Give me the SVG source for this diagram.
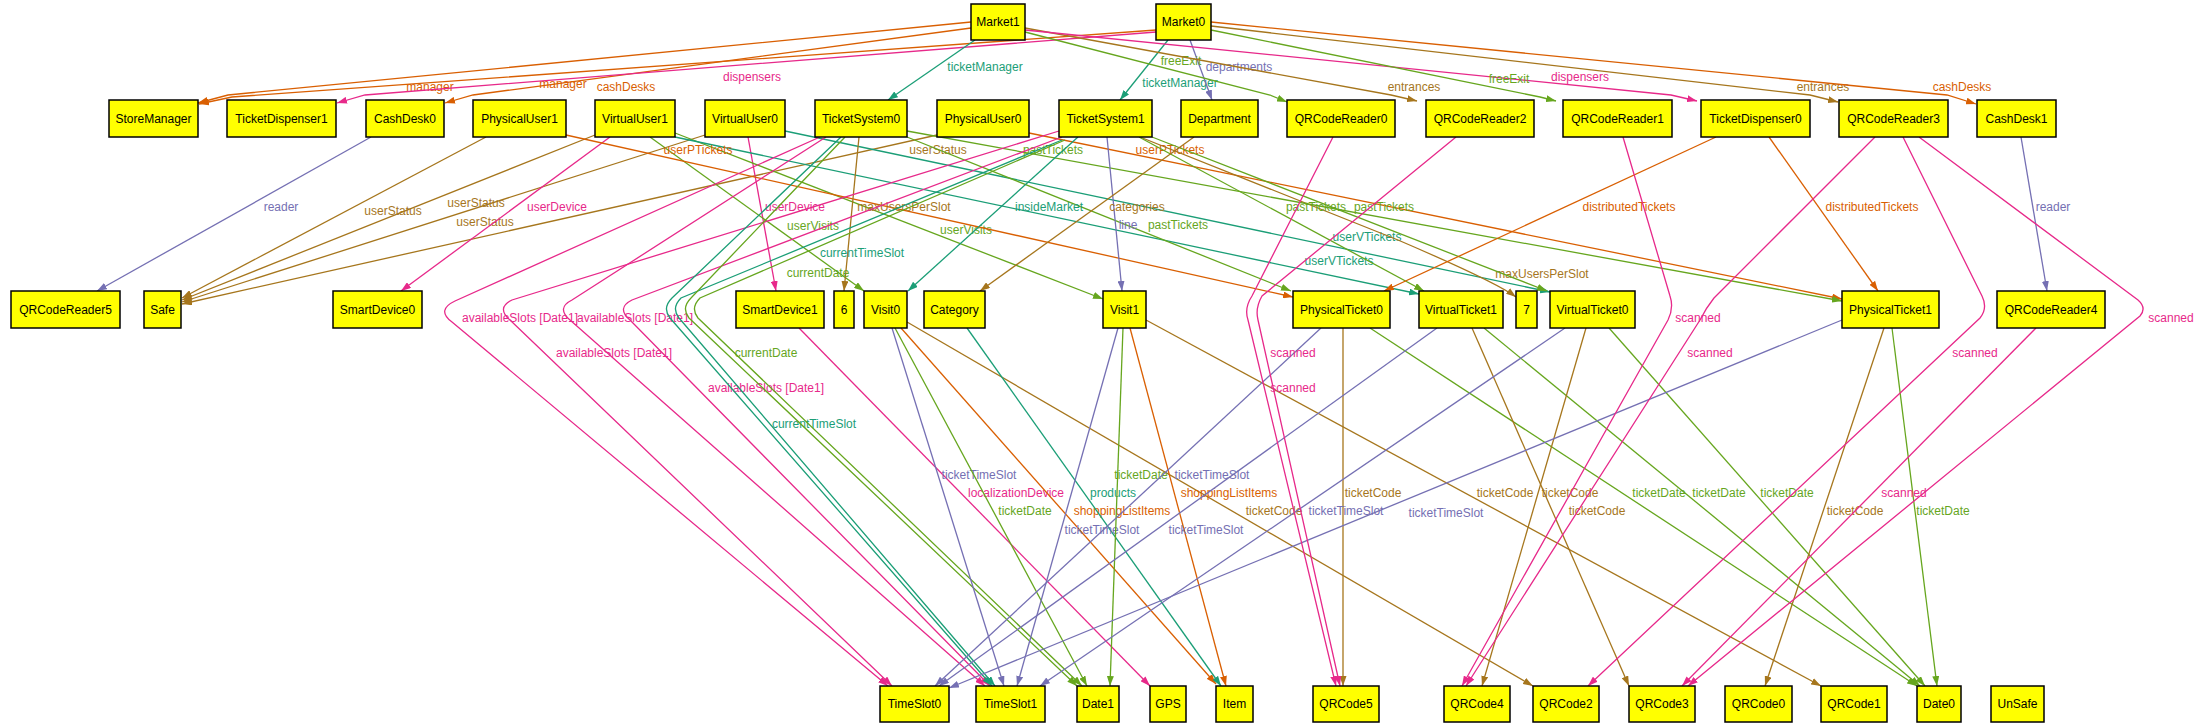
<svg xmlns="http://www.w3.org/2000/svg" width="2197" height="725" viewBox="0 0 2197 725">
<defs>
<style>
.n rect{fill:#ffff00;stroke:#000;stroke-width:1.5}
.n text{font-family:"Liberation Sans",Arial,sans-serif;font-size:12px;text-anchor:middle;fill:#000}
.e path{fill:none;stroke-width:1.3}
.e text{font-family:"Liberation Sans",Arial,sans-serif;font-size:12px;text-anchor:middle;stroke:none}
.teal path{stroke:#1b9e77;marker-end:url(#a-teal)} .teal text{fill:#1b9e77}
.orange path{stroke:#d95f02;marker-end:url(#a-orange)} .orange text{fill:#d95f02}
.purple path{stroke:#7570b3;marker-end:url(#a-purple)} .purple text{fill:#7570b3}
.pink path{stroke:#e7298a;marker-end:url(#a-pink)} .pink text{fill:#e7298a}
.green path{stroke:#66a61e;marker-end:url(#a-green)} .green text{fill:#66a61e}
.brown path{stroke:#a6761d;marker-end:url(#a-brown)} .brown text{fill:#a6761d}
</style>
<marker id="a-teal" markerUnits="userSpaceOnUse" markerWidth="10" markerHeight="7" refX="10" refY="3.5" orient="auto"><path d="M0,0 L10,3.5 L0,7 z" fill="#1b9e77"/></marker>
<marker id="a-orange" markerUnits="userSpaceOnUse" markerWidth="10" markerHeight="7" refX="10" refY="3.5" orient="auto"><path d="M0,0 L10,3.5 L0,7 z" fill="#d95f02"/></marker>
<marker id="a-purple" markerUnits="userSpaceOnUse" markerWidth="10" markerHeight="7" refX="10" refY="3.5" orient="auto"><path d="M0,0 L10,3.5 L0,7 z" fill="#7570b3"/></marker>
<marker id="a-pink" markerUnits="userSpaceOnUse" markerWidth="10" markerHeight="7" refX="10" refY="3.5" orient="auto"><path d="M0,0 L10,3.5 L0,7 z" fill="#e7298a"/></marker>
<marker id="a-green" markerUnits="userSpaceOnUse" markerWidth="10" markerHeight="7" refX="10" refY="3.5" orient="auto"><path d="M0,0 L10,3.5 L0,7 z" fill="#66a61e"/></marker>
<marker id="a-brown" markerUnits="userSpaceOnUse" markerWidth="10" markerHeight="7" refX="10" refY="3.5" orient="auto"><path d="M0,0 L10,3.5 L0,7 z" fill="#a6761d"/></marker>
</defs>
<rect x="0" y="0" width="2197" height="725" fill="#fff"/>
<g id="connectors">
<g class="e orange"><path d="M971,22 L228,95 L198,103"/><text x="430" y="91">manager</text></g>
<g class="e orange"><path d="M1156,30 L232,97 L199,104"/><text x="563" y="88">manager</text></g>
<g class="e orange"><path d="M971,28 L473,95 L445,103"/><text x="626" y="91">cashDesks</text></g>
<g class="e pink"><path d="M1156,32 L365,95 L337,103"/><text x="752" y="81">dispensers</text></g>
<g class="e teal"><path d="M975,40 L888,100"/><text x="985" y="71">ticketManager</text></g>
<g class="e teal"><path d="M1168,40 L1120,100"/><text x="1180" y="87">ticketManager</text></g>
<g class="e purple"><path d="M1190,40 L1212,100"/><text x="1239" y="71">departments</text></g>
<g class="e green"><path d="M1025,32 L1270,95 L1287,102"/><text x="1181" y="65">freeExit</text></g>
<g class="e brown"><path d="M1025,28 L1391,95 L1417,101"/><text x="1414" y="91">entrances</text></g>
<g class="e pink"><path d="M1025,30 L1671,95 L1697,101"/><text x="1580" y="81">dispensers</text></g>
<g class="e green"><path d="M1211,30 L1540,97 L1556,101"/><text x="1509" y="83">freeExit</text></g>
<g class="e brown"><path d="M1211,26 L1810,95 L1838,102"/><text x="1823" y="91">entrances</text></g>
<g class="e orange"><path d="M1211,22 L1947,95 L1976,104"/><text x="1962" y="91">cashDesks</text></g>
<g class="e purple"><path d="M371,137 L97,291"/><text x="281" y="211">reader</text></g>
<g class="e purple"><path d="M2021,137 L2047,291"/><text x="2053" y="211">reader</text></g>
<g class="e brown"><path d="M486,137 L182,298"/><text x="393" y="215">userStatus</text></g>
<g class="e brown"><path d="M595,135 L182,300"/><text x="476" y="207">userStatus</text></g>
<g class="e brown"><path d="M705,135 L182,302"/><text x="485" y="226">userStatus</text></g>
<g class="e brown"><path d="M937,135 L182,304"/><text x="938" y="154">userStatus</text></g>
<g class="e pink"><path d="M610,137 L401,291"/><text x="557" y="211">userDevice</text></g>
<g class="e pink"><path d="M748,137 L776,291"/><text x="795" y="211">userDevice</text></g>
<g class="e green"><path d="M650,137 L864,291"/><text x="813" y="230">userVisits</text></g>
<g class="e green"><path d="M675,133 L1103,299"/><text x="966" y="234">userVisits</text></g>
<g class="e teal"><path d="M675,137 L1419,294"/><text x="1339" y="265">userVTickets</text></g>
<g class="e teal"><path d="M785,131 L1550,292"/><text x="1367" y="241">userVTickets</text></g>
<g class="e orange"><path d="M566,135 L1293,297"/><text x="698" y="154">userPTickets</text></g>
<g class="e orange"><path d="M1029,133 L1842,299"/><text x="1170" y="154">userPTickets</text></g>
<g class="e brown"><path d="M859,137 L844,291"/><text x="904" y="211">maxUsersPerSlot</text></g>
<g class="e brown"><path d="M1140,137 L1398,240 Q1496,282 1516,297"/><text x="1542" y="278">maxUsersPerSlot</text></g>
<g class="e green"><path d="M907,131 L1842,301"/><text x="1053" y="154">pastTickets</text></g>
<g class="e green"><path d="M907,137 L1291,291"/><text x="1178" y="229">pastTickets</text></g>
<g class="e green"><path d="M1139,137 L1424,291"/><text x="1316" y="211">pastTickets</text></g>
<g class="e green"><path d="M1152,137 L1547,291"/><text x="1384" y="211">pastTickets</text></g>
<g class="e teal"><path d="M1078,137 L908,291"/><text x="1049" y="211">insideMarket</text></g>
<g class="e purple"><path d="M1107,137 L1122,291"/><text x="1128" y="229">line</text></g>
<g class="e brown"><path d="M1194,137 L980,291"/><text x="1137" y="211">categories</text></g>
<g class="e orange"><path d="M1716,137 L1384,291"/><text x="1629" y="211">distributedTickets</text></g>
<g class="e orange"><path d="M1769,137 L1878,291"/><text x="1872" y="211">distributedTickets</text></g>
<g class="e pink"><path d="M820,137 L455,301 Q436,310 452,322 L888,686"/><text x="520" y="322">availableSlots [Date1]</text></g>
<g class="e pink"><path d="M1059,131 L512,300 Q496,308 510,320 L892,686"/><text x="614" y="357">availableSlots [Date1]</text></g>
<g class="e pink"><path d="M826,137 L572,300 Q556,308 570,320 L985,686"/><text x="635" y="322">availableSlots [Date1]</text></g>
<g class="e pink"><path d="M1062,137 L632,300 Q616,308 630,320 L990,686"/><text x="766" y="392">availableSlots [Date1]</text></g>
<g class="e teal"><path d="M841,137 L672,298 Q662,308 670,318 L992,686"/><text x="862" y="257">currentTimeSlot</text></g>
<g class="e teal"><path d="M1062,140 L681,298 Q671,308 679,318 L995,686"/><text x="814" y="428">currentTimeSlot</text></g>
<g class="e green"><path d="M845,137 L691,298 Q681,308 689,318 L1077,686"/><text x="818" y="277">currentDate</text></g>
<g class="e green"><path d="M1065,140 L700,298 Q690,308 698,318 L1082,686"/><text x="766" y="357">currentDate</text></g>
<g class="e pink"><path d="M799,328 L1150,686"/><text x="1016" y="497">localizationDevice</text></g>
<g class="e purple"><path d="M892,328 L1004,686"/><text x="979" y="479">ticketTimeSlot</text></g>
<g class="e green"><path d="M895,328 L1087,686"/><text x="1025" y="515">ticketDate</text></g>
<g class="e orange"><path d="M901,328 L1216,684"/><text x="1122" y="515">shoppingListItems</text></g>
<g class="e brown"><path d="M907,322 L1533,686"/><text x="1274" y="515">ticketCode</text></g>
<g class="e teal"><path d="M967,328 L1221,686"/><text x="1113" y="497">products</text></g>
<g class="e purple"><path d="M1118,328 L1017,686"/><text x="1102" y="534">ticketTimeSlot</text></g>
<g class="e green"><path d="M1123,328 L1110,686"/><text x="1141" y="479">ticketDate</text></g>
<g class="e orange"><path d="M1130,328 L1226,686"/><text x="1229" y="497">shoppingListItems</text></g>
<g class="e brown"><path d="M1146,320 L1821,686"/><text x="1505" y="497">ticketCode</text></g>
<g class="e purple"><path d="M1321,328 L935,686"/><text x="1212" y="479">ticketTimeSlot</text></g>
<g class="e brown"><path d="M1343,328 L1343,686"/><text x="1373" y="497">ticketCode</text></g>
<g class="e green"><path d="M1370,328 L1917,686"/><text x="1659" y="497">ticketDate</text></g>
<g class="e purple"><path d="M1437,328 L939,686"/><text x="1206" y="534">ticketTimeSlot</text></g>
<g class="e brown"><path d="M1472,328 L1629,686"/><text x="1570" y="497">ticketCode</text></g>
<g class="e green"><path d="M1484,328 L1920,686"/><text x="1719" y="497">ticketDate</text></g>
<g class="e purple"><path d="M1565,328 L1040,686"/><text x="1346" y="515">ticketTimeSlot</text></g>
<g class="e brown"><path d="M1586,328 L1482,686"/><text x="1597" y="515">ticketCode</text></g>
<g class="e green"><path d="M1609,328 L1925,686"/><text x="1787" y="497">ticketDate</text></g>
<g class="e purple"><path d="M1842,320 L949,688"/><text x="1446" y="517">ticketTimeSlot</text></g>
<g class="e brown"><path d="M1884,328 L1765,686"/><text x="1855" y="515">ticketCode</text></g>
<g class="e green"><path d="M1892,328 L1937,686"/><text x="1943" y="515">ticketDate</text></g>
<g class="e pink"><path d="M1333,137 L1252,296 Q1244,308 1248,320 L1336,686"/><text x="1293" y="357">scanned</text></g>
<g class="e pink"><path d="M1456,137 L1262,296 Q1255,308 1258,320 L1340,686"/><text x="1293" y="392">scanned</text></g>
<g class="e pink"><path d="M1623,137 L1670,296 Q1674,308 1668,320 L1462,686"/><text x="1698" y="322">scanned</text></g>
<g class="e pink"><path d="M1875,137 L1714,298 Q1706,308 1700,320 L1466,686"/><text x="1710" y="357">scanned</text></g>
<g class="e pink"><path d="M1903,137 L1982,296 Q1988,308 1980,318 L1588,686"/><text x="1975" y="357">scanned</text></g>
<g class="e pink"><path d="M1919,137 L2138,300 Q2147,308 2140,316 L1688,686"/><text x="2171" y="322">scanned</text></g>
<g class="e pink"><path d="M2036,328 L1682,686"/><text x="1904" y="497">scanned</text></g>
</g>
<g id="Market1" class="n"><rect x="971" y="4" width="54" height="36"/><text x="998" y="26">Market1</text></g>
<g id="Market0" class="n"><rect x="1156" y="4" width="55" height="36"/><text x="1183.5" y="26">Market0</text></g>
<g id="StoreManager" class="n"><rect x="109" y="100" width="89" height="37"/><text x="153.5" y="123">StoreManager</text></g>
<g id="TicketDispenser1" class="n"><rect x="227" y="100" width="109" height="37"/><text x="281.5" y="123">TicketDispenser1</text></g>
<g id="CashDesk0" class="n"><rect x="366" y="100" width="78" height="37"/><text x="405" y="123">CashDesk0</text></g>
<g id="PhysicalUser1" class="n"><rect x="473" y="100" width="93" height="37"/><text x="519.5" y="123">PhysicalUser1</text></g>
<g id="VirtualUser1" class="n"><rect x="595" y="100" width="80" height="37"/><text x="635" y="123">VirtualUser1</text></g>
<g id="VirtualUser0" class="n"><rect x="705" y="100" width="80" height="37"/><text x="745" y="123">VirtualUser0</text></g>
<g id="TicketSystem0" class="n"><rect x="815" y="100" width="92" height="37"/><text x="861" y="123">TicketSystem0</text></g>
<g id="PhysicalUser0" class="n"><rect x="937" y="100" width="92" height="37"/><text x="983" y="123">PhysicalUser0</text></g>
<g id="TicketSystem1" class="n"><rect x="1059" y="100" width="93" height="37"/><text x="1105.5" y="123">TicketSystem1</text></g>
<g id="Department" class="n"><rect x="1181" y="100" width="77" height="37"/><text x="1219.5" y="123">Department</text></g>
<g id="QRCodeReader0" class="n"><rect x="1287" y="100" width="108" height="37"/><text x="1341" y="123">QRCodeReader0</text></g>
<g id="QRCodeReader2" class="n"><rect x="1426" y="100" width="108" height="37"/><text x="1480" y="123">QRCodeReader2</text></g>
<g id="QRCodeReader1" class="n"><rect x="1563" y="100" width="109" height="37"/><text x="1617.5" y="123">QRCodeReader1</text></g>
<g id="TicketDispenser0" class="n"><rect x="1701" y="100" width="109" height="37"/><text x="1755.5" y="123">TicketDispenser0</text></g>
<g id="QRCodeReader3" class="n"><rect x="1839" y="100" width="109" height="37"/><text x="1893.5" y="123">QRCodeReader3</text></g>
<g id="CashDesk1" class="n"><rect x="1977" y="100" width="79" height="37"/><text x="2016.5" y="123">CashDesk1</text></g>
<g id="QRCodeReader5" class="n"><rect x="11" y="291" width="109" height="37"/><text x="65.5" y="314">QRCodeReader5</text></g>
<g id="Safe" class="n"><rect x="144" y="291" width="37" height="37"/><text x="162.5" y="314">Safe</text></g>
<g id="SmartDevice0" class="n"><rect x="333" y="291" width="89" height="37"/><text x="377.5" y="314">SmartDevice0</text></g>
<g id="SmartDevice1" class="n"><rect x="736" y="291" width="88" height="37"/><text x="780" y="314">SmartDevice1</text></g>
<g id="n6" class="n"><rect x="834" y="291" width="20" height="37"/><text x="844" y="314">6</text></g>
<g id="Visit0" class="n"><rect x="864" y="291" width="43" height="37"/><text x="885.5" y="314">Visit0</text></g>
<g id="Category" class="n"><rect x="924" y="291" width="61" height="37"/><text x="954.5" y="314">Category</text></g>
<g id="Visit1" class="n"><rect x="1103" y="291" width="43" height="37"/><text x="1124.5" y="314">Visit1</text></g>
<g id="PhysicalTicket0" class="n"><rect x="1293" y="291" width="97" height="37"/><text x="1341.5" y="314">PhysicalTicket0</text></g>
<g id="VirtualTicket1" class="n"><rect x="1419" y="291" width="84" height="37"/><text x="1461" y="314">VirtualTicket1</text></g>
<g id="n7" class="n"><rect x="1516" y="291" width="21" height="37"/><text x="1526.5" y="314">7</text></g>
<g id="VirtualTicket0" class="n"><rect x="1550" y="291" width="85" height="37"/><text x="1592.5" y="314">VirtualTicket0</text></g>
<g id="PhysicalTicket1" class="n"><rect x="1842" y="291" width="97" height="37"/><text x="1890.5" y="314">PhysicalTicket1</text></g>
<g id="QRCodeReader4" class="n"><rect x="1997" y="291" width="108" height="37"/><text x="2051" y="314">QRCodeReader4</text></g>
<g id="TimeSlot0" class="n"><rect x="880" y="686" width="69" height="36"/><text x="914.5" y="708">TimeSlot0</text></g>
<g id="TimeSlot1" class="n"><rect x="976" y="686" width="69" height="36"/><text x="1010.5" y="708">TimeSlot1</text></g>
<g id="Date1" class="n"><rect x="1077" y="686" width="42" height="36"/><text x="1098" y="708">Date1</text></g>
<g id="GPS" class="n"><rect x="1150" y="686" width="36" height="36"/><text x="1168" y="708">GPS</text></g>
<g id="Item" class="n"><rect x="1216" y="686" width="37" height="36"/><text x="1234.5" y="708">Item</text></g>
<g id="QRCode5" class="n"><rect x="1313" y="686" width="66" height="36"/><text x="1346" y="708">QRCode5</text></g>
<g id="QRCode4" class="n"><rect x="1444" y="686" width="66" height="36"/><text x="1477" y="708">QRCode4</text></g>
<g id="QRCode2" class="n"><rect x="1533" y="686" width="66" height="36"/><text x="1566" y="708">QRCode2</text></g>
<g id="QRCode3" class="n"><rect x="1629" y="686" width="66" height="36"/><text x="1662" y="708">QRCode3</text></g>
<g id="QRCode0" class="n"><rect x="1725" y="686" width="67" height="36"/><text x="1758.5" y="708">QRCode0</text></g>
<g id="QRCode1" class="n"><rect x="1821" y="686" width="66" height="36"/><text x="1854" y="708">QRCode1</text></g>
<g id="Date0" class="n"><rect x="1917" y="686" width="44" height="36"/><text x="1939" y="708">Date0</text></g>
<g id="UnSafe" class="n"><rect x="1991" y="686" width="53" height="36"/><text x="2017.5" y="708">UnSafe</text></g>
</svg>
